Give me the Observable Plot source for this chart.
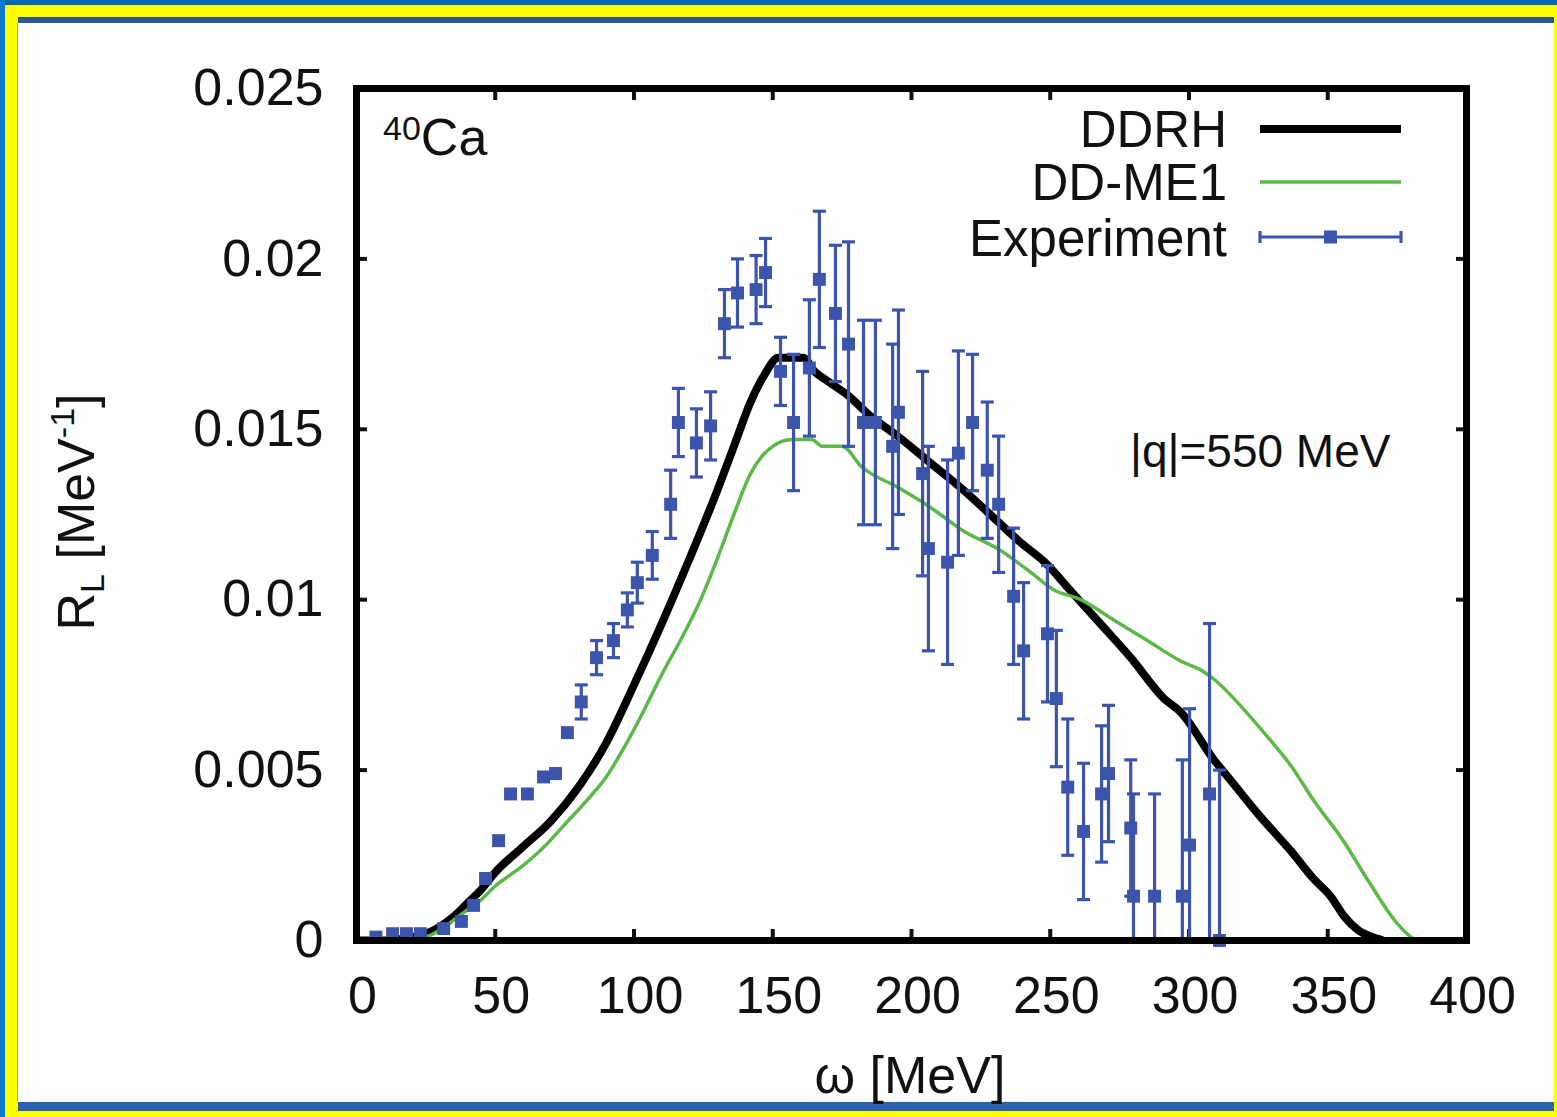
<!DOCTYPE html>
<html><head><meta charset="utf-8">
<script src="https://cdn.jsdelivr.net/npm/d3@7"></script>
<script src="https://cdn.jsdelivr.net/npm/@observablehq/plot@0.6"></script>
<style>
html,body{margin:0;padding:0;background:#fff;}
#page{position:relative;width:1557px;height:1117px;background:#ffff00;overflow:hidden;font-family:"Liberation Sans",Arial,Helvetica,sans-serif;}
.band{position:absolute;}
#chart{position:absolute;left:18px;top:23px;width:1536px;height:1079px;background:#fff;}
#overlay{position:absolute;left:0;top:0;pointer-events:none;}
</style></head>
<body><div id="page">
<div class="band" style="left:0;top:0;width:1557px;height:5px;background:#0068b0"></div>
<div class="band" style="left:0;top:0;width:5px;height:1117px;background:#0a7ad4"></div>
<div class="band" style="left:18px;top:17px;width:1536px;height:6px;background:#2d5590"></div>
<div class="band" style="left:18px;top:1102px;width:1536px;height:9px;background:#2a62ae"></div>
<div class="band" style="left:17px;top:23px;width:1px;height:1079px;background:#8fb0e6"></div>
<div id="chart"></div>
<svg id="overlay" width="1557" height="1117"></svg>
</div>
<script>
// ---- data ----
const xTicks = [0, 50, 100, 150, 200, 250, 300, 350, 400];
const yTicks = [0, 0.005, 0.01, 0.015, 0.02, 0.025];

const ddrhOmega = [0,10,20,25,30,35,40,45,50,60,70,80,90,100,110,120,130,136,142,147,152,161,165,170,177,185,195,207,219,231,239,248,258,268,279,291,297,309,315,325,337,345,351,356,361,366,370];
const ddrhR     = [0,0,0.0001,0.0002,0.0004,0.0007,0.0011,0.0015,0.0020,0.00275,0.0035,0.0045,0.0058,0.0075,0.0093,0.0112,0.0132,0.0145,0.0158,0.0166,0.0171,0.0171,0.0167,0.0164,0.0160,0.0154,0.0148,0.0140,0.0132,0.0123,0.0117,0.0111,0.0102,0.0093,0.0083,0.0071,0.0067,0.0053,0.0047,0.0037,0.0026,0.0018,0.0013,0.0007,0.0003,0.0001,0];

const ddme1Omega = [0,20,25,30,35,40,45,50,55,60,67,75,84,90,96,102,110,118,124,130,136,142,146,150,157,164,168,175,182,195,207,219,231,243,251,261,273,285,297,305,310,315,327,337,345,355,365,375,380,382];
const ddme1R     = [0,0,0.0001,0.0003,0.0006,0.0009,0.0012,0.0016,0.0019,0.0022,0.0027,0.0034,0.0042,0.0048,0.0056,0.0065,0.0078,0.0090,0.0100,0.0112,0.0125,0.0137,0.0142,0.0145,0.0147,0.0147,0.0145,0.0145,0.0139,0.0133,0.0127,0.0120,0.0115,0.0108,0.0103,0.0100,0.0094,0.0088,0.0082,0.0079,0.0076,0.0072,0.0061,0.0051,0.0041,0.0030,0.0017,0.0005,0.0001,0];

const expOmega = [7,13,18,23,31.4,37.8,42.2,46.5,51.2,55.5,61.6,67.4,71.7,76,81,86.5,92.6,97.6,101.2,106.6,113.2,116,122.5,127.6,132.6,137.3,144,147.4,152.8,157.5,163.2,166.8,172.6,177.3,182.7,187,193.2,195.3,204,206.1,213,216.9,222,227.3,231.4,236.8,240.4,249,252.2,256.3,262,268.5,271,279,280,287.6,297.6,300.2,307.4,311];
const expR     = [0.0001,0.0002,0.0002,0.0002,0.00035,0.00056,0.00103,0.00182,0.00293,0.0043,0.0043,0.0048,0.0049,0.0061,0.0070,0.0083,0.0088,0.0097,0.0105,0.0113,0.0128,0.0152,0.0146,0.0151,0.0181,0.0190,0.0191,0.0196,0.0167,0.0152,0.0168,0.0194,0.0184,0.0175,0.0152,0.0152,0.0145,0.0155,0.0137,0.0115,0.0111,0.0143,0.0152,0.0138,0.0128,0.0101,0.0085,0.0090,0.0071,0.0045,0.0032,0.0043,0.0049,0.0033,0.0013,0.0013,0.0013,0.0028,0.0043,0.0000];
const expErr   = [0,0,0,0,0,0,0,0,0,0,0,0,0,0,0.0005,0.0005,0.0005,0.0005,0.0006,0.0007,0.001,0.001,0.001,0.001,0.001,0.001,0.001,0.001,0.001,0.002,0.002,0.002,0.002,0.003,0.003,0.003,0.003,0.003,0.003,0.003,0.003,0.003,0.002,0.002,0.002,0.002,0.002,0.002,0.002,0.002,0.002,0.002,0.002,0.002,0.003,0.003,0.004,0.004,0.005,0.005];

const seriesNames = ["DDRH", "DD-ME1", "Experiment"];
const colors = {black: "#000000", green: "#5cb948", blue: "#3b55ad"};

// ---- tables ----
const ddrh = ddrhOmega.map((w, i) => ({w, r: ddrhR[i]}));
const ddme1 = ddme1Omega.map((w, i) => ({w, r: ddme1R[i]}));
const exp = expOmega.map((w, i) => ({w, r: expR[i], e: expErr[i]}));
const expBars = exp.filter(d => d.e > 0);

const hline = {
  draw(context, size) {
    const r = Math.sqrt(size / Math.PI);
    context.moveTo(-r, 0);
    context.lineTo(r, 0);
  }
};

const fmt = d => String(d);

const chart = Plot.plot({
  width: 1536,
  height: 1079,
  marginLeft: 338,
  marginRight: 88,
  marginTop: 65,
  marginBottom: 162,
  style: {background: "transparent", fontFamily: "'Liberation Sans', Arial, Helvetica, sans-serif", fontSize: "52px", color: "#111"},
  x: {domain: [0, 400]},
  y: {domain: [0, 0.025]},
  marks: [
    Plot.axisX(xTicks, {anchor: "bottom", tickSize: 0, tickPadding: 36, dx: 6, tickFormat: fmt, label: null, fontSize: 52}),
    Plot.axisX(xTicks, {anchor: "bottom", tickSize: -11, strokeWidth: 4, tickFormat: () => "", label: null}),
    Plot.axisX(xTicks, {anchor: "top", tickSize: -11, strokeWidth: 4, tickFormat: () => "", label: null}),
    Plot.axisY(yTicks, {anchor: "left", tickSize: 0, tickPadding: 33, tickFormat: fmt, label: null, fontSize: 52}),
    Plot.axisY(yTicks, {anchor: "left", tickSize: -11, strokeWidth: 4, tickFormat: () => "", label: null}),
    Plot.axisY(yTicks, {anchor: "right", tickSize: -11, strokeWidth: 4, tickFormat: () => "", label: null}),
    Plot.line(ddrh, {x: "w", y: "r", stroke: colors.black, strokeWidth: 8, curve: "monotone-x", clip: true}),
    Plot.line(ddme1, {x: "w", y: "r", stroke: colors.green, strokeWidth: 3.5, curve: "monotone-x", clip: true}),
    Plot.ruleX(expBars, {x: "w", y1: d => d.r - d.e, y2: d => d.r + d.e, stroke: colors.blue, strokeWidth: 3.2, clip: true}),
    Plot.dot(expBars, {x: "w", y: d => d.r + d.e, symbol: hline, r: 6.5, stroke: colors.blue, strokeWidth: 3.2, clip: true}),
    Plot.dot(expBars, {x: "w", y: d => d.r - d.e, symbol: hline, r: 6.5, stroke: colors.blue, strokeWidth: 3.2, clip: true}),
    Plot.dot(exp, {x: "w", y: "r", symbol: "square", r: 7.3, fill: colors.blue, stroke: null}),
    Plot.frame({stroke: "#000", strokeWidth: 7})
  ]
});
document.getElementById("chart").appendChild(chart);

// ---- annotations, axis titles and legend (overlay) ----
const ov = d3.select("#overlay");
const font = "'Liberation Sans', Arial, Helvetica, sans-serif";

// 40Ca
const ca = ov.append("text").attr("x", 383).attr("y", 155).attr("font-family", font).attr("fill", "#111");
ca.append("tspan").attr("font-size", 34).attr("dy", -15).text("40");
ca.append("tspan").attr("font-size", 52).attr("dy", 15).text("Ca");

// |q| = 550 MeV
ov.append("text").attr("x", 1130).attr("y", 467).attr("font-family", font).attr("font-size", 46).attr("fill", "#111").text("|q|=550 MeV");

// x axis title
ov.append("text").attr("x", 910).attr("y", 1093).attr("text-anchor", "middle").attr("font-family", font).attr("font-size", 52).attr("fill", "#111").text("ω [MeV]");

// y axis title
const yl = ov.append("text").attr("transform", "translate(94,512) rotate(-90)").attr("text-anchor", "middle").attr("font-family", font).attr("font-size", 52).attr("fill", "#111");
yl.append("tspan").text("R");
yl.append("tspan").attr("font-size", 34).attr("dy", 10).text("L");
yl.append("tspan").attr("dy", -10).text(" [MeV");
yl.append("tspan").attr("font-size", 34).attr("dy", -20).text("-1");
yl.append("tspan").attr("dy", 20).text("]");

// legend
const legY = [129, 182, 237];
const legBase = [147, 200, 256];
seriesNames.forEach((name, i) => {
  ov.append("text").attr("x", 1227).attr("y", legBase[i]).attr("text-anchor", "end")
    .attr("font-family", font).attr("font-size", 51).attr("fill", "#111").text(name);
});
ov.append("line").attr("x1", 1260).attr("x2", 1401).attr("y1", legY[0]).attr("y2", legY[0]).attr("stroke", colors.black).attr("stroke-width", 8);
ov.append("line").attr("x1", 1260).attr("x2", 1401).attr("y1", legY[1]).attr("y2", legY[1]).attr("stroke", colors.green).attr("stroke-width", 3.5);
ov.append("line").attr("x1", 1260).attr("x2", 1401).attr("y1", legY[2]).attr("y2", legY[2]).attr("stroke", colors.blue).attr("stroke-width", 3.2);
[1260, 1401].forEach(xc => ov.append("line").attr("x1", xc).attr("x2", xc).attr("y1", legY[2] - 6).attr("y2", legY[2] + 6).attr("stroke", colors.blue).attr("stroke-width", 3.2));
ov.append("rect").attr("x", 1324).attr("y", legY[2] - 6.5).attr("width", 13).attr("height", 13).attr("fill", colors.blue);
</script>
</body></html>
